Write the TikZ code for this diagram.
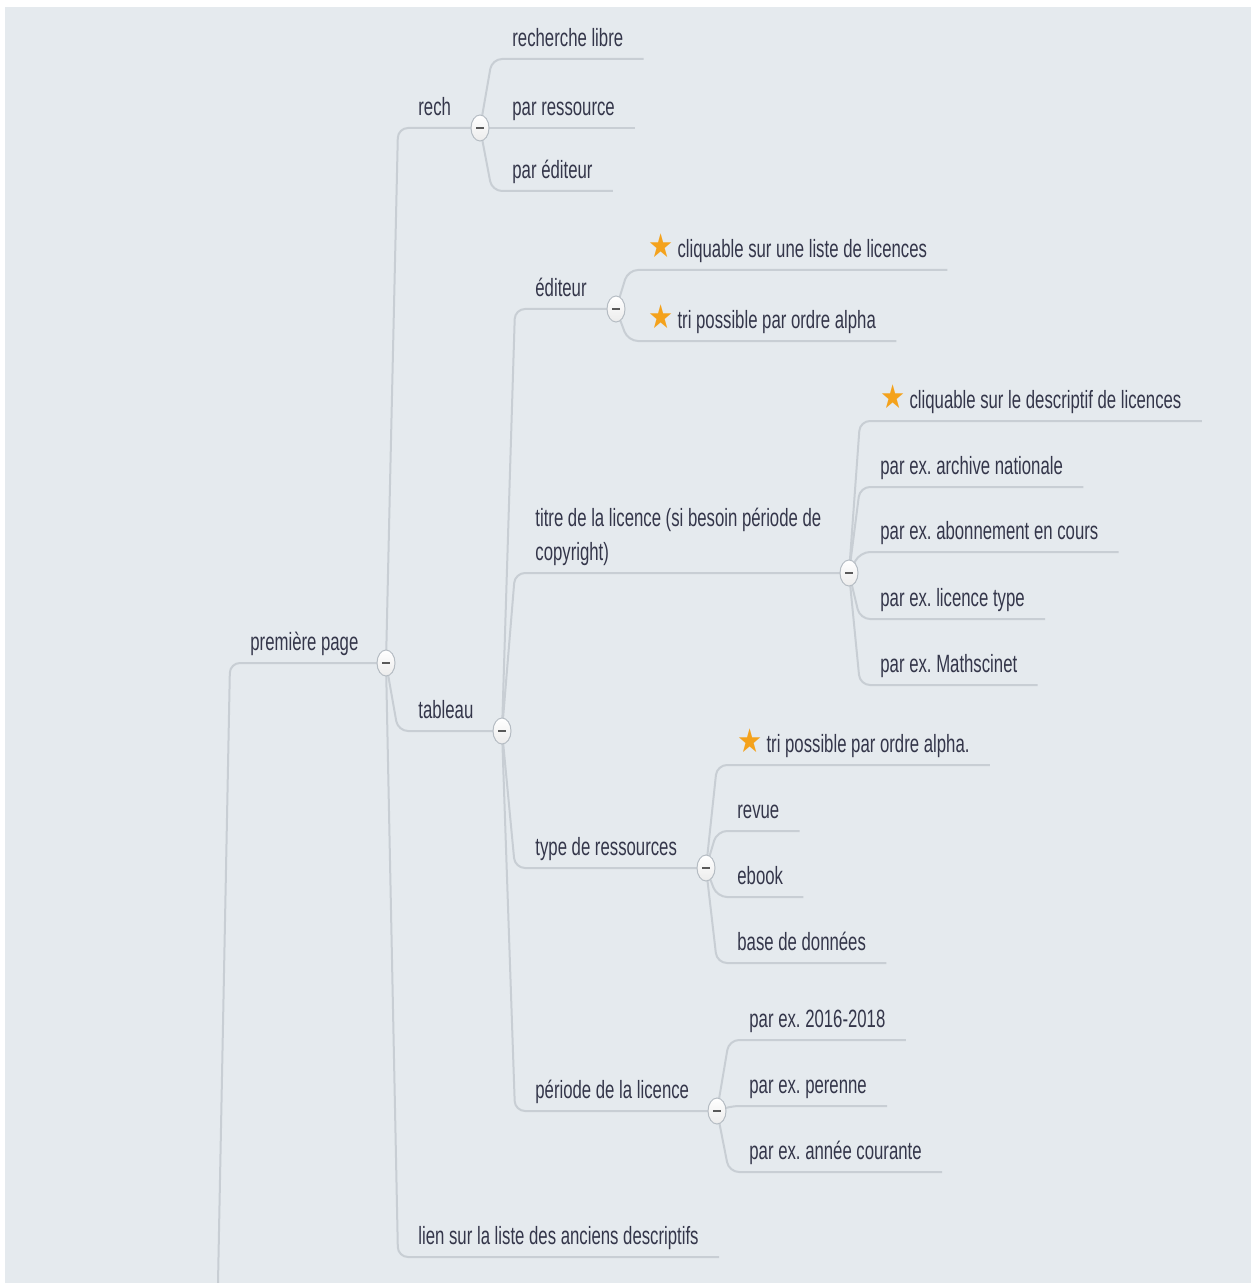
\documentclass[tikz,border=0pt]{standalone}
\usepackage{fontspec}
\setmainfont{Liberation Sans}[FakeStretch=0.67]
\newfontfamily\starfont{DejaVu Sans}[FakeStretch=0.85]
\usetikzlibrary{shapes.geometric}
\definecolor{bgc}{HTML}{E5EAEE}
\definecolor{linec}{HTML}{C8CED4}
\definecolor{txtc}{HTML}{34364A}
\definecolor{starc}{HTML}{F4A21C}
\definecolor{circb}{HTML}{B5BCC3}
\pgfdeclarelayer{bg}\pgfdeclarelayer{lines}\pgfsetlayers{bg,lines,main}
\newcommand{\stark}{{\starfont\color{starc}\fontsize{16.5}{15}\selectfont ★}\hspace{2pt}}
\frenchspacing
\begin{document}
\begin{tikzpicture}[x=0.5pt,y=-0.5pt,
  item/.style={anchor=south west, inner xsep=10pt, inner ysep=6.25pt, text depth=0pt, text=txtc, font=\fontsize{12.5}{17}\selectfont\frenchspacing, align=left},
  conn/.style={draw=linec, line width=1pt, rounded corners=5pt},
  knob/.style={ellipse, minimum width=9pt, minimum height=13pt, inner sep=0pt, draw=circb, line width=0.5pt, top color=white, bottom color=gray!15,
    path picture={\fill[black!65] ([xshift=-2pt,yshift=-0.7pt]path picture bounding box.center) rectangle ([xshift=2pt,yshift=0.7pt]path picture bounding box.center);}}]
\begin{pgfonlayer}{bg}
\fill[white] (0,0) rectangle (1253,1283);
\fill[bgc] (5,7) rectangle (1251,1283);
\end{pgfonlayer}
\useasboundingbox (0,0) rectangle (1253,1283);
\coordinate (root) at (218,1283);
\node[item] (pp) at (230,663) {première page};
\node[knob] (c0) at (386,663) {};
\node[item] (rech) at (398,128) {rech};
\node[knob] (c1) at (480,128) {};
\node[item] (rl) at (492,59) {recherche libre};
\node[item] (pr) at (492,128) {par ressource};
\node[item] (pe) at (492,191) {par éditeur};
\node[item] (tab) at (398,731) {tableau};
\node[knob] (c2) at (502,731) {};
\node[item] (lien) at (398,1257) {lien sur la liste des anciens descriptifs};
\node[item] (edi) at (515,309) {éditeur};
\node[knob] (c3) at (616,309) {};
\node[item] (e1) at (628,270) {\stark cliquable sur une liste de licences};
\node[item] (e2) at (628,341) {\stark tri possible par ordre alpha};
\node[item] (tit) at (515,573) {titre de la licence (si besoin période de\\copyright)};
\node[knob] (c4) at (849,573) {};
\node[item] (t1) at (860,421) {\stark cliquable sur le descriptif de licences};
\node[item] (t2) at (860,487) {par ex. archive nationale};
\node[item] (t3) at (860,552) {par ex. abonnement en cours};
\node[item] (t4) at (860,619) {par ex. licence type};
\node[item] (t5) at (860,685) {par ex. Mathscinet};
\node[item] (typ) at (515,868) {type de ressources};
\node[knob] (c5) at (706,868) {};
\node[item] (y1) at (717,765) {\stark tri possible par ordre alpha.};
\node[item] (y2) at (717,831) {revue};
\node[item] (y3) at (717,897) {ebook};
\node[item] (y4) at (717,963) {base de données};
\node[item] (per) at (515,1111) {période de la licence};
\node[knob] (c6) at (717,1111) {};
\node[item] (p1) at (729,1040) {par ex. 2016-2018};
\node[item] (p2) at (729,1106) {par ex. perenne};
\node[item] (p3) at (729,1172) {par ex. année courante};
\begin{pgfonlayer}{lines}
\draw[conn] (root) -- (pp.south west) -- (c0.center);
\draw[conn] (c0.center) -- (rech.south west) -- (c1.center);
\draw[conn] (c0.center) -- (tab.south west) -- (c2.center);
\draw[conn] (c0.center) -- (lien.south west) -- (lien.south east);
\foreach \k in {rl,pr,pe}{\draw[conn] (c1.center) -- (\k.south west) -- (\k.south east);}
\draw[conn] (c2.center) -- (edi.south west) -- (c3.center);
\draw[conn] (c2.center) -- (tit.south west) -- (c4.center);
\draw[conn] (c2.center) -- (typ.south west) -- (c5.center);
\draw[conn] (c2.center) -- (per.south west) -- (c6.center);
\foreach \k in {e1,e2}{\draw[conn] (c3.center) -- (\k.south west) -- (\k.south east);}
\foreach \k in {t1,t2,t3,t4,t5}{\draw[conn] (c4.center) -- (\k.south west) -- (\k.south east);}
\foreach \k in {y1,y2,y3,y4}{\draw[conn] (c5.center) -- (\k.south west) -- (\k.south east);}
\foreach \k in {p1,p2,p3}{\draw[conn] (c6.center) -- (\k.south west) -- (\k.south east);}
\end{pgfonlayer}
\end{tikzpicture}
\end{document}
